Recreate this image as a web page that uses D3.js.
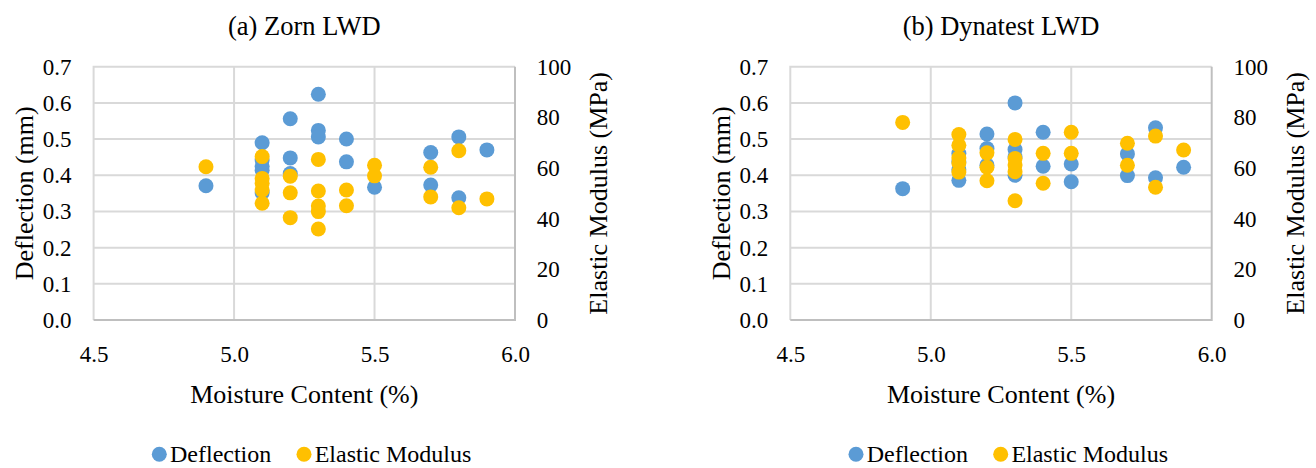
<!DOCTYPE html>
<html>
<head>
<meta charset="utf-8">
<script src="https://cdn.jsdelivr.net/npm/d3@7/dist/d3.min.js"></script>
<style>
  html, body { margin: 0; padding: 0; background: #fff; }
  svg { display: block; }
  text { font-family: "Liberation Serif", "Times New Roman", serif; fill: #000; }
</style>
</head>
<body>
<svg id="chart" width="1316" height="468"></svg>
<script>
// Panel titles
const panelTitles = ["(a) Zorn LWD", "(b) Dynatest LWD"];

// Zorn LWD: deflection (mm) vs moisture content (%)
const zornDefMoisture = [4.9, 5.1, 5.1, 5.1, 5.1, 5.1, 5.2, 5.2, 5.2, 5.3, 5.3, 5.3, 5.4, 5.4, 5.5, 5.7, 5.7, 5.8, 5.8, 5.9];
const zornDeflection  = [0.371, 0.490, 0.442, 0.425, 0.414, 0.352, 0.556, 0.448, 0.405, 0.624, 0.524, 0.506, 0.500, 0.437, 0.367, 0.463, 0.373, 0.506, 0.338, 0.470];
// Zorn LWD: elastic modulus (MPa) vs moisture content (%)
const zornModMoisture = [4.9, 5.1, 5.1, 5.1, 5.1, 5.1, 5.2, 5.2, 5.2, 5.3, 5.3, 5.3, 5.3, 5.3, 5.4, 5.4, 5.5, 5.5, 5.7, 5.7, 5.8, 5.8, 5.9];
const zornModulus     = [60.5, 64.5, 55.9, 54.0, 51.3, 46.1, 56.8, 50.2, 40.4, 63.4, 50.9, 45.0, 42.8, 35.9, 51.3, 45.1, 61.1, 56.9, 60.3, 48.6, 66.8, 44.3, 47.8];

// Dynatest LWD: deflection (mm) vs moisture content (%)
const dynDefMoisture = [4.9, 5.1, 5.1, 5.1, 5.1, 5.2, 5.2, 5.2, 5.3, 5.3, 5.3, 5.3, 5.4, 5.4, 5.5, 5.5, 5.7, 5.7, 5.8, 5.8, 5.9];
const dynDeflection  = [0.363, 0.460, 0.437, 0.415, 0.386, 0.514, 0.474, 0.428, 0.600, 0.471, 0.451, 0.400, 0.519, 0.425, 0.431, 0.382, 0.459, 0.399, 0.531, 0.393, 0.422];
// Dynatest LWD: elastic modulus (MPa) vs moisture content (%)
const dynModMoisture = [4.9, 5.1, 5.1, 5.1, 5.1, 5.1, 5.2, 5.2, 5.2, 5.3, 5.3, 5.3, 5.3, 5.3, 5.4, 5.4, 5.5, 5.5, 5.7, 5.7, 5.8, 5.8, 5.9];
const dynModulus     = [78.0, 73.2, 69.0, 64.0, 62.0, 58.4, 66.0, 60.3, 55.0, 71.3, 63.8, 61.2, 58.5, 47.1, 65.8, 54.0, 74.1, 65.8, 69.8, 61.1, 72.6, 52.4, 67.1];

// Axis ticks
const xTicks = [4.5, 5.0, 5.5, 6.0];
const yLeftTicks = [0, 0.1, 0.2, 0.3, 0.4, 0.5, 0.6, 0.7];
const yRightTicks = [0, 20, 40, 60, 80, 100];

// Labels
const xTitle = "Moisture Content (%)";
const yLeftTitle = "Deflection (mm)";
const yRightTitle = "Elastic Modulus (MPa)";
const seriesNames = ["Deflection", "Elastic Modulus"];
const seriesColors = ["#5B9BD5", "#FFC000"];

const panels = [
  { title: panelTitles[0], defX: zornDefMoisture, defY: zornDeflection, modX: zornModMoisture, modY: zornModulus, dx: 0 },
  { title: panelTitles[1], defX: dynDefMoisture, defY: dynDeflection, modX: dynModMoisture, modY: dynModulus, dx: 696.7 }
];

const svg = d3.select("#chart");

panels.forEach(p => {
  const left = 93.6 + p.dx, right = 515 + p.dx, top = 66.7, bottom = 320;
  const x = d3.scaleLinear().domain([4.5, 6.0]).range([left, right]);
  const yL = d3.scaleLinear().domain([0, 0.7]).range([bottom, top]);
  const yR = d3.scaleLinear().domain([0, 100]).range([bottom, top]);
  const g = svg.append("g");

  // gridlines
  g.selectAll("line.hgrid").data(yLeftTicks.slice(1, -1)).join("line")
    .attr("x1", left).attr("x2", right)
    .attr("y1", d => yL(d)).attr("y2", d => yL(d))
    .attr("stroke", "#d9d9d9").attr("stroke-width", 2);
  g.selectAll("line.vgrid").data(xTicks.slice(1, -1)).join("line")
    .attr("y1", top).attr("y2", bottom)
    .attr("x1", d => x(d)).attr("x2", d => x(d))
    .attr("stroke", "#d9d9d9").attr("stroke-width", 2);

  // plot frame
  g.append("path")
    .attr("d", `M${left},${bottom}V${top}H${right}`)
    .attr("fill", "none").attr("stroke", "#d9d9d9").attr("stroke-width", 2);
  g.append("path")
    .attr("d", `M${left},${bottom}H${right}V${top}`)
    .attr("fill", "none").attr("stroke", "#bfbfbf").attr("stroke-width", 2);

  // axes
  const axL = g.append("g").attr("transform", `translate(${left},0)`)
    .call(d3.axisLeft(yL).tickValues(yLeftTicks).tickFormat(d3.format(".1f")).tickSize(0).tickPadding(22));
  const axR = g.append("g").attr("transform", `translate(${right},0)`)
    .call(d3.axisRight(yR).tickValues(yRightTicks).tickFormat(d3.format("d")).tickSize(0).tickPadding(21.7));
  const axB = g.append("g").attr("transform", `translate(0,${bottom})`)
    .call(d3.axisBottom(x).tickValues(xTicks).tickFormat(d3.format(".1f")).tickSize(0).tickPadding(25.7));
  [axL, axR, axB].forEach(a => {
    a.select(".domain").remove();
    a.selectAll("text").attr("font-family", "Liberation Serif").attr("font-size", 23).attr("fill", "#000");
  });

  // markers: deflection on primary axis, modulus on secondary axis
  g.append("g").selectAll("circle").data(d3.range(p.defX.length)).join("circle")
    .attr("cx", i => x(p.defX[i])).attr("cy", i => yL(p.defY[i]))
    .attr("r", 7.5).attr("fill", seriesColors[0]);
  g.append("g").selectAll("circle").data(d3.range(p.modX.length)).join("circle")
    .attr("cx", i => x(p.modX[i])).attr("cy", i => yR(p.modY[i]))
    .attr("r", 7.5).attr("fill", seriesColors[1]);

  // titles
  g.append("text").attr("x", (left + right) / 2).attr("y", 35)
    .attr("text-anchor", "middle").attr("font-size", 26.5).text(p.title);
  g.append("text").attr("x", (left + right) / 2).attr("y", 403)
    .attr("text-anchor", "middle").attr("font-size", 26).text(xTitle);
  g.append("text").attr("transform", `translate(${33 + p.dx},193.3) rotate(-90)`)
    .attr("text-anchor", "middle").attr("font-size", 26).text(yLeftTitle);
  g.append("text").attr("transform", `translate(${607 + p.dx},193.3) rotate(-90)`)
    .attr("text-anchor", "middle").attr("font-size", 26).text(yRightTitle);

  // legend
  const legX = [159.3 + p.dx, 304 + p.dx];
  const leg = g.append("g").selectAll("g").data(seriesNames).join("g");
  leg.append("circle").attr("cx", (d, i) => legX[i]).attr("cy", 454.3)
    .attr("r", 7.5).attr("fill", (d, i) => seriesColors[i]);
  leg.append("text").attr("x", (d, i) => legX[i] + 10.7).attr("y", 462)
    .attr("font-size", 24).text(d => d);
});
</script>
</body>
</html>
